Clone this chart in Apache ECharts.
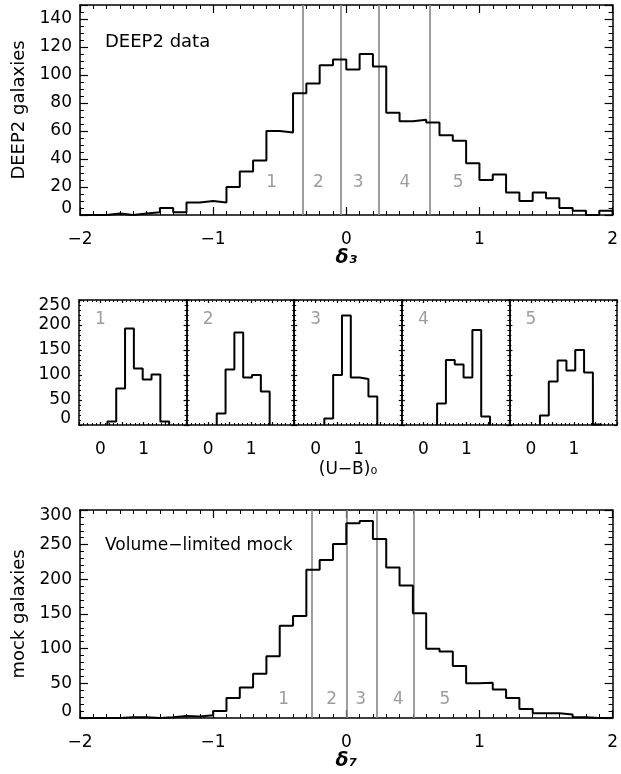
<!DOCTYPE html>
<html><head><meta charset="utf-8">
<script src="https://cdn.jsdelivr.net/npm/echarts@6/dist/echarts.min.js"></script>
<style>html,body{margin:0;padding:0;background:#fff}#c{width:621px;height:774px}</style>
</head><body><div id="c"></div>
<script>
// ---------- data ----------
const topBinStart = -2.0;
const topBinWidth = 0.1;
const topCounts = [0,0,1,0,1,2,5,2,9,10,9,20,31,39,60,59,87,94,107,111,104,115,106,73,67,68,66,57,53,37,25,29,16,10,16,12,5,3,0,3];
const topDividers = [-0.33, -0.04, 0.24, 0.63];
const topRegionX = [-0.56, -0.21, 0.09, 0.44, 0.84];
const topRegionY = [23, 23, 23, 23, 23];
const regionNames = ['1','2','3','4','5'];

const botBinStart = -2.0;
const botBinWidth = 0.1;
const botCounts = [0,0,0,1,1,0,1,3,2,4,10,29,44,64,89,133,147,214,228,251,281,284,258,217,191,151,100,96,75,50,51,41,29,13,7,7,5,1,0,0];
const botDividers = [-0.26, 0.0, 0.23, 0.51];
const botRegionX = [-0.47, -0.11, 0.107, 0.39, 0.74];
const botRegionY = [27, 27, 27, 27, 27];

const midBinWidth = 0.205;
const midBinStarts = [0.16, 0.20, 0.20, 0.32, 0.21];
const midCounts = [
  [7, 73, 193, 113, 91, 101, 7],
  [23, 111, 185, 95, 100, 67],
  [13, 100, 219, 95, 92, 57],
  [43, 130, 121, 95, 190, 17],
  [19, 87, 129, 109, 150, 105, 1]
];
const midLabelX = [0.0, 0.0, 0.0, 0.0, 0.0];
const midLabelY = [211, 211, 211, 211, 211];

const bigXTicks = [-2, -1, 0, 1, 2];
const midXTicks = [0, 1];

// ---------- helpers ----------
const FONT = 'DejaVu Sans';
const GRAY = '#858585';
function steps(start, width, counts) {
  const pts = [[start, 0]];
  counts.forEach((c, i) => {
    pts.push([start + i * width, c]);
    pts.push([start + (i + 1) * width, c]);
  });
  pts.push([start + counts.length * width, 0]);
  return pts;
}
function fmtMinus(v) { return String(v).replace('-', '\u2212'); }

const grids = [];
const xAxes = [];
const yAxes = [];
const series = [];

function addPanel(o) {
  const g = grids.length;
  grids.push({left: o.left, top: o.top, width: o.width, height: o.height, containLabel: false});
  const lineS = {color: '#000', width: 1.5};
  const tickS = {color: '#000', width: 1.2};
  const xi = xAxes.length;
  for (const pos of ['bottom', 'top']) {
    xAxes.push({
      type: 'value', gridIndex: g, position: pos, min: o.xmin, max: o.xmax, interval: o.xint,
      axisLine: {show: true, onZero: false, lineStyle: lineS},
      axisTick: {show: true, inside: true, length: o.xTick, lineStyle: tickS},
      minorTick: {show: true, splitNumber: o.xMinor, length: o.xMinorLen, lineStyle: {color: '#000', width: 1}},
      splitLine: {show: false}, minorSplitLine: {show: false},
      axisLabel: {show: pos === 'bottom' && o.xLabels, formatter: o.xFmt, color: '#000', fontSize: 17, fontFamily: FONT, margin: 16, showMinLabel: true, showMaxLabel: true},
      name: pos === 'bottom' ? (o.xName || '') : '', nameLocation: 'middle', nameGap: o.xNameGap || 34,
      nameTextStyle: o.xNameStyle || {}
    });
  }
  const yi = yAxes.length;
  for (const pos of ['left', 'right']) {
    yAxes.push({
      type: 'value', gridIndex: g, position: pos, min: o.ymin, max: o.ymax, interval: o.yint,
      axisLine: {show: true, onZero: false, lineStyle: lineS},
      axisTick: {show: true, inside: true, length: o.yTick, lineStyle: tickS},
      minorTick: {show: o.yMinor > 0, splitNumber: o.yMinor || 1, length: o.yMinorLen, lineStyle: {color: '#000', width: 1}},
      splitLine: {show: false}, minorSplitLine: {show: false},
      axisLabel: {show: pos === 'left' && o.yLabels, color: '#000', fontSize: 17, lineHeight: 12, fontFamily: FONT, margin: 8,
        showMinLabel: true, showMaxLabel: o.showMaxY !== false, hideOverlap: false,
        verticalAlignMinLabel: 'bottom', verticalAlignMaxLabel: 'top'},
      name: pos === 'left' ? (o.yName || '') : '', nameLocation: 'middle', nameGap: o.yNameGap || 52,
      nameTextStyle: {fontSize: 18, fontFamily: FONT, color: '#000'}
    });
  }
  return {g, xi, yi};
}

// ---------- top panel ----------
const bigFmt = v => bigXTicks.includes(v) ? fmtMinus(v) : '';
const P0 = addPanel({left: 80, top: 5, width: 536, height: 210,
  xmin: -2, xmax: 2, xint: 1, xTick: 8, xMinor: 10, xMinorLen: 4, xLabels: true, xFmt: bigFmt,
  xName: '\u03b4\u2083', xNameGap: 34, xNameStyle: {fontSize: 19, fontWeight: 'bold', fontStyle: 'italic', fontFamily: FONT, color: '#000'},
  ymin: 0, ymax: 150, yint: 20, yTick: 8, yMinor: 4, yMinorLen: 4, yLabels: true, showMaxY: false,
  yName: 'DEEP2 galaxies', yNameGap: 50});
series.push({type: 'line', xAxisIndex: P0.xi, yAxisIndex: P0.yi, data: steps(topBinStart, topBinWidth, topCounts),
  showSymbol: false, symbol: 'none', lineStyle: {color: '#000', width: 2}, z: 5, silent: true,
  markLine: {silent: true, symbol: ['none', 'none'], label: {show: false}, lineStyle: {color: GRAY, type: 'solid', width: 1.6},
    data: topDividers.map(v => ({xAxis: v}))}});
series.push({type: 'scatter', xAxisIndex: P0.xi, yAxisIndex: P0.yi, symbolSize: 1, itemStyle: {color: 'transparent'}, silent: true,
  data: topRegionX.map((x, i) => ({value: [x, topRegionY[i]], name: regionNames[i]})),
  label: {show: true, position: 'inside', formatter: p => p.name, color: GRAY, fontSize: 17, fontFamily: FONT}});

// ---------- middle panels ----------
const midFmt = v => midXTicks.includes(v) ? String(v) : '';
const midW = 107.6;
for (let i = 0; i < 5; i++) {
  const P = addPanel({left: 79 + i * midW, top: 300, width: midW, height: 125,
    xmin: -0.5, xmax: 2.0, xint: 0.5, xTick: 3, xMinor: 5, xMinorLen: 2, xLabels: true, xFmt: midFmt,
    xName: i === 2 ? '(U\u2212B)\u2080' : '', xNameGap: 36, xNameStyle: {fontSize: 17, fontFamily: FONT, color: '#000'},
    ymin: 0, ymax: 250, yint: 50, yTick: 3, yMinor: 5, yMinorLen: 2, yLabels: i === 0});
  series.push({type: 'line', xAxisIndex: P.xi, yAxisIndex: P.yi, data: steps(midBinStarts[i], midBinWidth, midCounts[i]),
    showSymbol: false, symbol: 'none', lineStyle: {color: '#000', width: 2}, z: 5, silent: true});
  series.push({type: 'scatter', xAxisIndex: P.xi, yAxisIndex: P.yi, symbolSize: 1, itemStyle: {color: 'transparent'}, silent: true,
    data: [{value: [midLabelX[i], midLabelY[i]], name: regionNames[i]}],
    label: {show: true, position: 'inside', formatter: p => p.name, color: GRAY, fontSize: 17, fontFamily: FONT}});
}

// ---------- bottom panel ----------
const P6 = addPanel({left: 80, top: 510, width: 536, height: 208,
  xmin: -2, xmax: 2, xint: 1, xTick: 8, xMinor: 10, xMinorLen: 4, xLabels: true, xFmt: bigFmt,
  xName: '\u03b4\u2087', xNameGap: 34, xNameStyle: {fontSize: 19, fontWeight: 'bold', fontStyle: 'italic', fontFamily: FONT, color: '#000'},
  ymin: 0, ymax: 300, yint: 50, yTick: 8, yMinor: 5, yMinorLen: 4, yLabels: true,
  yName: 'mock galaxies', yNameGap: 50});
series.push({type: 'line', xAxisIndex: P6.xi, yAxisIndex: P6.yi, data: steps(botBinStart, botBinWidth, botCounts),
  showSymbol: false, symbol: 'none', lineStyle: {color: '#000', width: 2}, z: 5, silent: true,
  markLine: {silent: true, symbol: ['none', 'none'], label: {show: false}, lineStyle: {color: GRAY, type: 'solid', width: 1.6},
    data: botDividers.map(v => ({xAxis: v}))}});
series.push({type: 'scatter', xAxisIndex: P6.xi, yAxisIndex: P6.yi, symbolSize: 1, itemStyle: {color: 'transparent'}, silent: true,
  data: botRegionX.map((x, i) => ({value: [x, botRegionY[i]], name: regionNames[i]})),
  label: {show: true, position: 'inside', formatter: p => p.name, color: GRAY, fontSize: 17, fontFamily: FONT}});

const chart = echarts.init(document.getElementById('c'), null, {renderer: 'canvas'});
chart.setOption({
  animation: false,
  backgroundColor: '#fff',
  textStyle: {fontFamily: FONT},
  grid: grids, xAxis: xAxes, yAxis: yAxes, series: series,
  graphic: [
    {type: 'text', left: 105, top: 33, style: {text: 'DEEP2 data', fontSize: 18, fontFamily: FONT, fill: '#000'}},
    {type: 'text', left: 105, top: 537, style: {text: 'Volume\u2212limited mock', fontSize: 17, fontFamily: FONT, fill: '#000'}}
  ]
});
</script></body></html>
